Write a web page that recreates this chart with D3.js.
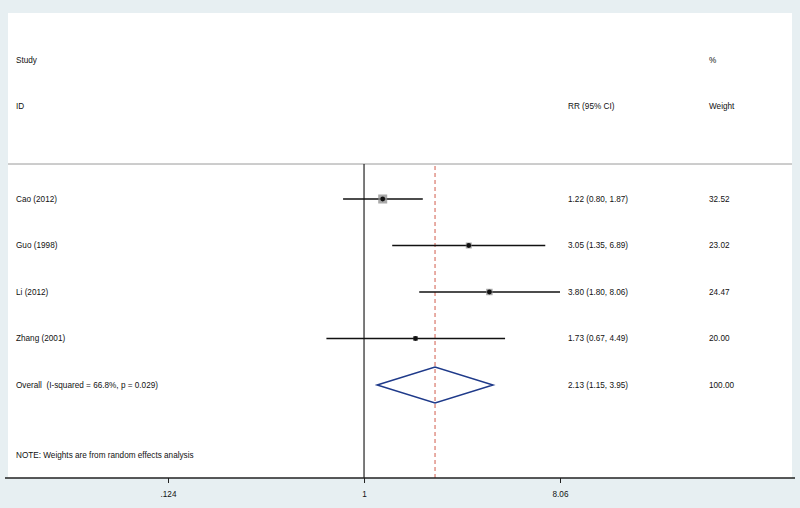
<!DOCTYPE html>
<html>
<head>
<meta charset="utf-8">
<script src="https://cdn.jsdelivr.net/npm/d3@7/dist/d3.min.js"></script>
<style>
  body { margin: 0; background: #e7eff2; }
  svg { display: block; font-family: "Liberation Sans", Arial, sans-serif; }
  text { white-space: pre; }
</style>
</head>
<body>
<div id="forest"></div>
<script>
// study rows
var studies = ["Cao (2012)", "Guo (1998)", "Li (2012)", "Zhang (2001)"];
var rr      = [1.22, 3.05, 3.80, 1.73];
var lower   = [0.80, 1.35, 1.80, 0.67];
var upper   = [1.87, 6.89, 8.06, 4.49];
var weights = ["32.52", "23.02", "24.47", "20.00"];

// pooled estimate
var overallLabel = "Overall  (I-squared = 66.8%, p = 0.029)";
var overall = {rr: 2.13, lo: 1.15, hi: 3.95, weight: "100.00"};

var tickValues = [0.124, 1, 8.06];
var tickLabels = [".124", "1", "8.06"];

var width = 800, height = 508;

var svg = d3.select("#forest")
  .append("svg")
  .attr("width", width)
  .attr("height", height);

// white plot panel
svg.append("rect")
  .attr("x", 8).attr("y", 13)
  .attr("width", 784).attr("height", 465)
  .attr("fill", "#fff");

var x = d3.scaleLog()
  .domain([0.124, 8.06])
  .range([168, 560]);

var rowY = d3.scalePoint()
  .domain(studies.concat(["Overall"]))
  .range([199, 385]);

var boxSize = d3.scaleLinear()
  .domain([20, 32.52])
  .range([5, 9]);

var fontSize = 8.2;

function txt(xp, yp, s) {
  svg.append("text")
    .attr("x", xp).attr("y", yp)
    .attr("dy", "0.35em")
    .attr("font-size", fontSize)
    .attr("fill", "#111")
    .text(s);
}

// headers
txt(16, 60, "Study");
txt(16, 106, "ID");
txt(568, 106, "RR (95% CI)");
txt(709, 60, "%");
txt(709, 106, "Weight");

// header separator
svg.append("line")
  .attr("x1", 8).attr("x2", 792)
  .attr("y1", 164).attr("y2", 164)
  .attr("stroke", "#9a9a9a").attr("stroke-width", 1);

// null line
svg.append("line")
  .attr("x1", x(1)).attr("x2", x(1))
  .attr("y1", 164).attr("y2", 478)
  .attr("stroke", "#222").attr("stroke-width", 1.2);

// overall dashed line
svg.append("line")
  .attr("x1", x(overall.rr)).attr("x2", x(overall.rr))
  .attr("y1", 166).attr("y2", 478)
  .attr("stroke", "#d9776a").attr("stroke-width", 1.2)
  .attr("stroke-dasharray", "4,3");

// CIs
studies.forEach(function(s, i) {
  var y = rowY(s);
  svg.append("line")
    .attr("x1", x(lower[i])).attr("x2", x(upper[i]))
    .attr("y1", y).attr("y2", y)
    .attr("stroke", "#111").attr("stroke-width", 1.3);
  var b = boxSize(+weights[i]);
  svg.append("rect")
    .attr("x", x(rr[i]) - b / 2).attr("y", y - b / 2)
    .attr("width", b).attr("height", b)
    .attr("fill", "#8c8c8c").attr("opacity", 0.75);
  svg.append("circle")
    .attr("cx", x(rr[i])).attr("cy", y)
    .attr("r", 2.4)
    .attr("fill", "#111");
  txt(16, y, s);
  txt(568, y, rr[i].toFixed(2) + " (" + lower[i].toFixed(2) + ", " + upper[i].toFixed(2) + ")");
  txt(709, y, weights[i]);
});

// overall diamond
var oy = rowY("Overall");
svg.append("path")
  .attr("d", "M" + x(overall.lo) + "," + oy +
             "L" + x(overall.rr) + "," + (oy - 18) +
             "L" + x(overall.hi) + "," + oy +
             "L" + x(overall.rr) + "," + (oy + 18) + "Z")
  .attr("fill", "none")
  .attr("stroke", "#1f3a8a").attr("stroke-width", 1.5);
txt(16, oy, overallLabel);
txt(568, oy, overall.rr.toFixed(2) + " (" + overall.lo.toFixed(2) + ", " + overall.hi.toFixed(2) + ")");
txt(709, oy, overall.weight);

txt(16, 455, "NOTE: Weights are from random effects analysis");

// x axis
var axis = svg.append("g")
  .attr("transform", "translate(0,478)")
  .call(d3.axisBottom(x)
    .tickValues(tickValues)
    .tickFormat(function(d, i) { return tickLabels[i]; })
    .tickSize(5)
    .tickSizeOuter(0));
axis.select(".domain").remove();
axis.append("line")
  .attr("x1", 5).attr("x2", 795)
  .attr("stroke", "#222").attr("stroke-width", 1.3);
axis.selectAll(".tick line").attr("stroke", "#222");
axis.selectAll(".tick text")
  .attr("font-size", fontSize)
  .attr("font-family", "Liberation Sans, Arial, sans-serif")
  .attr("fill", "#111")
  .attr("y", 13);
</script>
</body>
</html>
